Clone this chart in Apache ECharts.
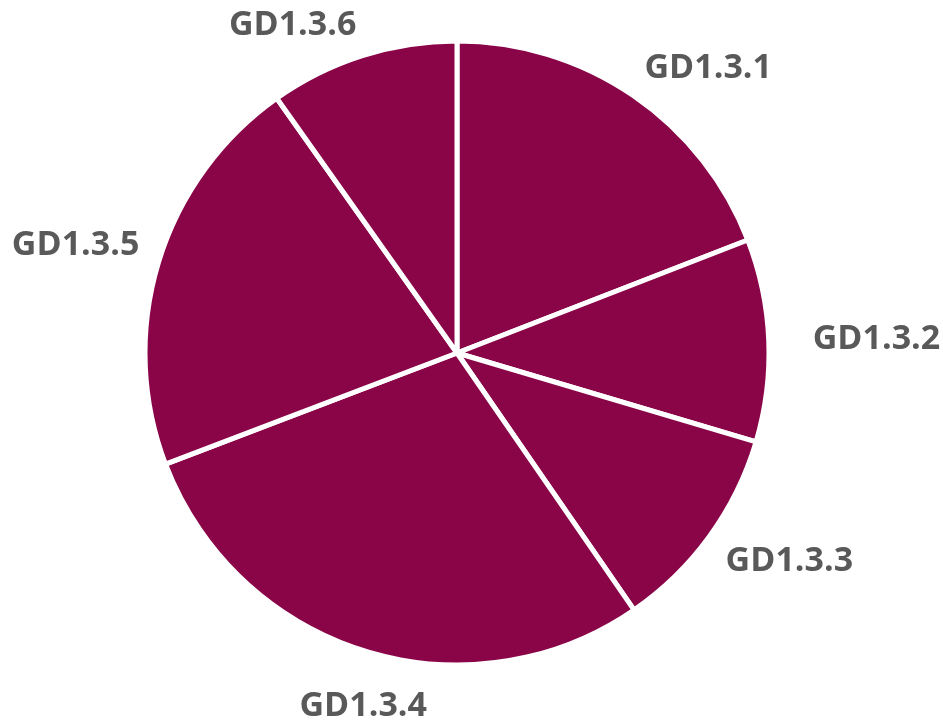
<!DOCTYPE html>
<html>
<head>
<meta charset="utf-8">
<style>
  html, body { margin: 0; padding: 0; background: #ffffff; }
  #chart { width: 943px; height: 723px; }
</style>
<script src="https://cdn.jsdelivr.net/npm/echarts@6/dist/echarts.min.js"></script>
</head>
<body>
<div id="chart"></div>
<script>
// Share of each indicator (percent)
const categories = ['GD1.3.1', 'GD1.3.2', 'GD1.3.3', 'GD1.3.4', 'GD1.3.5', 'GD1.3.6'];
const shares = [19.1, 10.5, 10.8, 28.8, 21.0, 9.8];

const CX = 457, CY = 353, RADIUS = 312;
const FONT_SIZE = 34;
const CAP_H = 24;          // visible height of the capital letters
const total = shares.reduce((a, b) => a + b, 0);

// mid angle of each slice, measured clockwise from 12 o'clock
const midAngles = [];
let acc = 0;
shares.forEach(v => {
  midAngles.push((acc + v / 2) / total * Math.PI * 2);
  acc += v;
});

const chart = echarts.init(document.getElementById('chart'), null, { renderer: 'canvas' });

chart.setOption({
  backgroundColor: '#ffffff',
  animation: false,
  series: [{
    type: 'pie',
    center: [CX, CY],
    radius: RADIUS,
    startAngle: 90,
    clockwise: true,
    data: categories.map((name, i) => ({ name, value: shares[i] })),
    itemStyle: { color: '#8A0548', borderColor: '#ffffff', borderWidth: 5 },
    label: {
      show: true,
      position: 'outside',
      formatter: '{b}',
      color: '#595959',
      fontFamily: 'Open Sans',
      fontWeight: 'bold',
      fontSize: FONT_SIZE,
      lineHeight: 36,
      overflow: 'none'
    },
    labelLine: { show: false },
    emphasis: { disabled: true },
    // place each label just outside the rim: the corner or edge of the text
    // that faces the slice sits on the slice's mid-angle ray
    labelLayout: function (params) {
      const a = midAngles[params.dataIndex];
      const s = Math.sin(a), c = Math.cos(a);
      const w = params.labelRect.width;
      const fx = Math.abs(s) < 0.3 ? 0.5 : (s > 0 ? 0 : 1);
      const fy = Math.abs(c) < 0.2 ? 0.5 : (c > 0 ? 1 : 0);
      const r = (fx === 0.5 || fy === 0.5) ? 356 : 332;
      const px = CX + r * s, py = CY - r * c;
      const glyphCenterY = py - fy * CAP_H + CAP_H / 2;
      return {
        x: px - fx * w + (fx === 0.5 ? 12 : 0),
        y: glyphCenterY + 1,
        align: 'left',
        verticalAlign: 'middle'
      };
    }
  }]
});
</script>
</body>
</html>
